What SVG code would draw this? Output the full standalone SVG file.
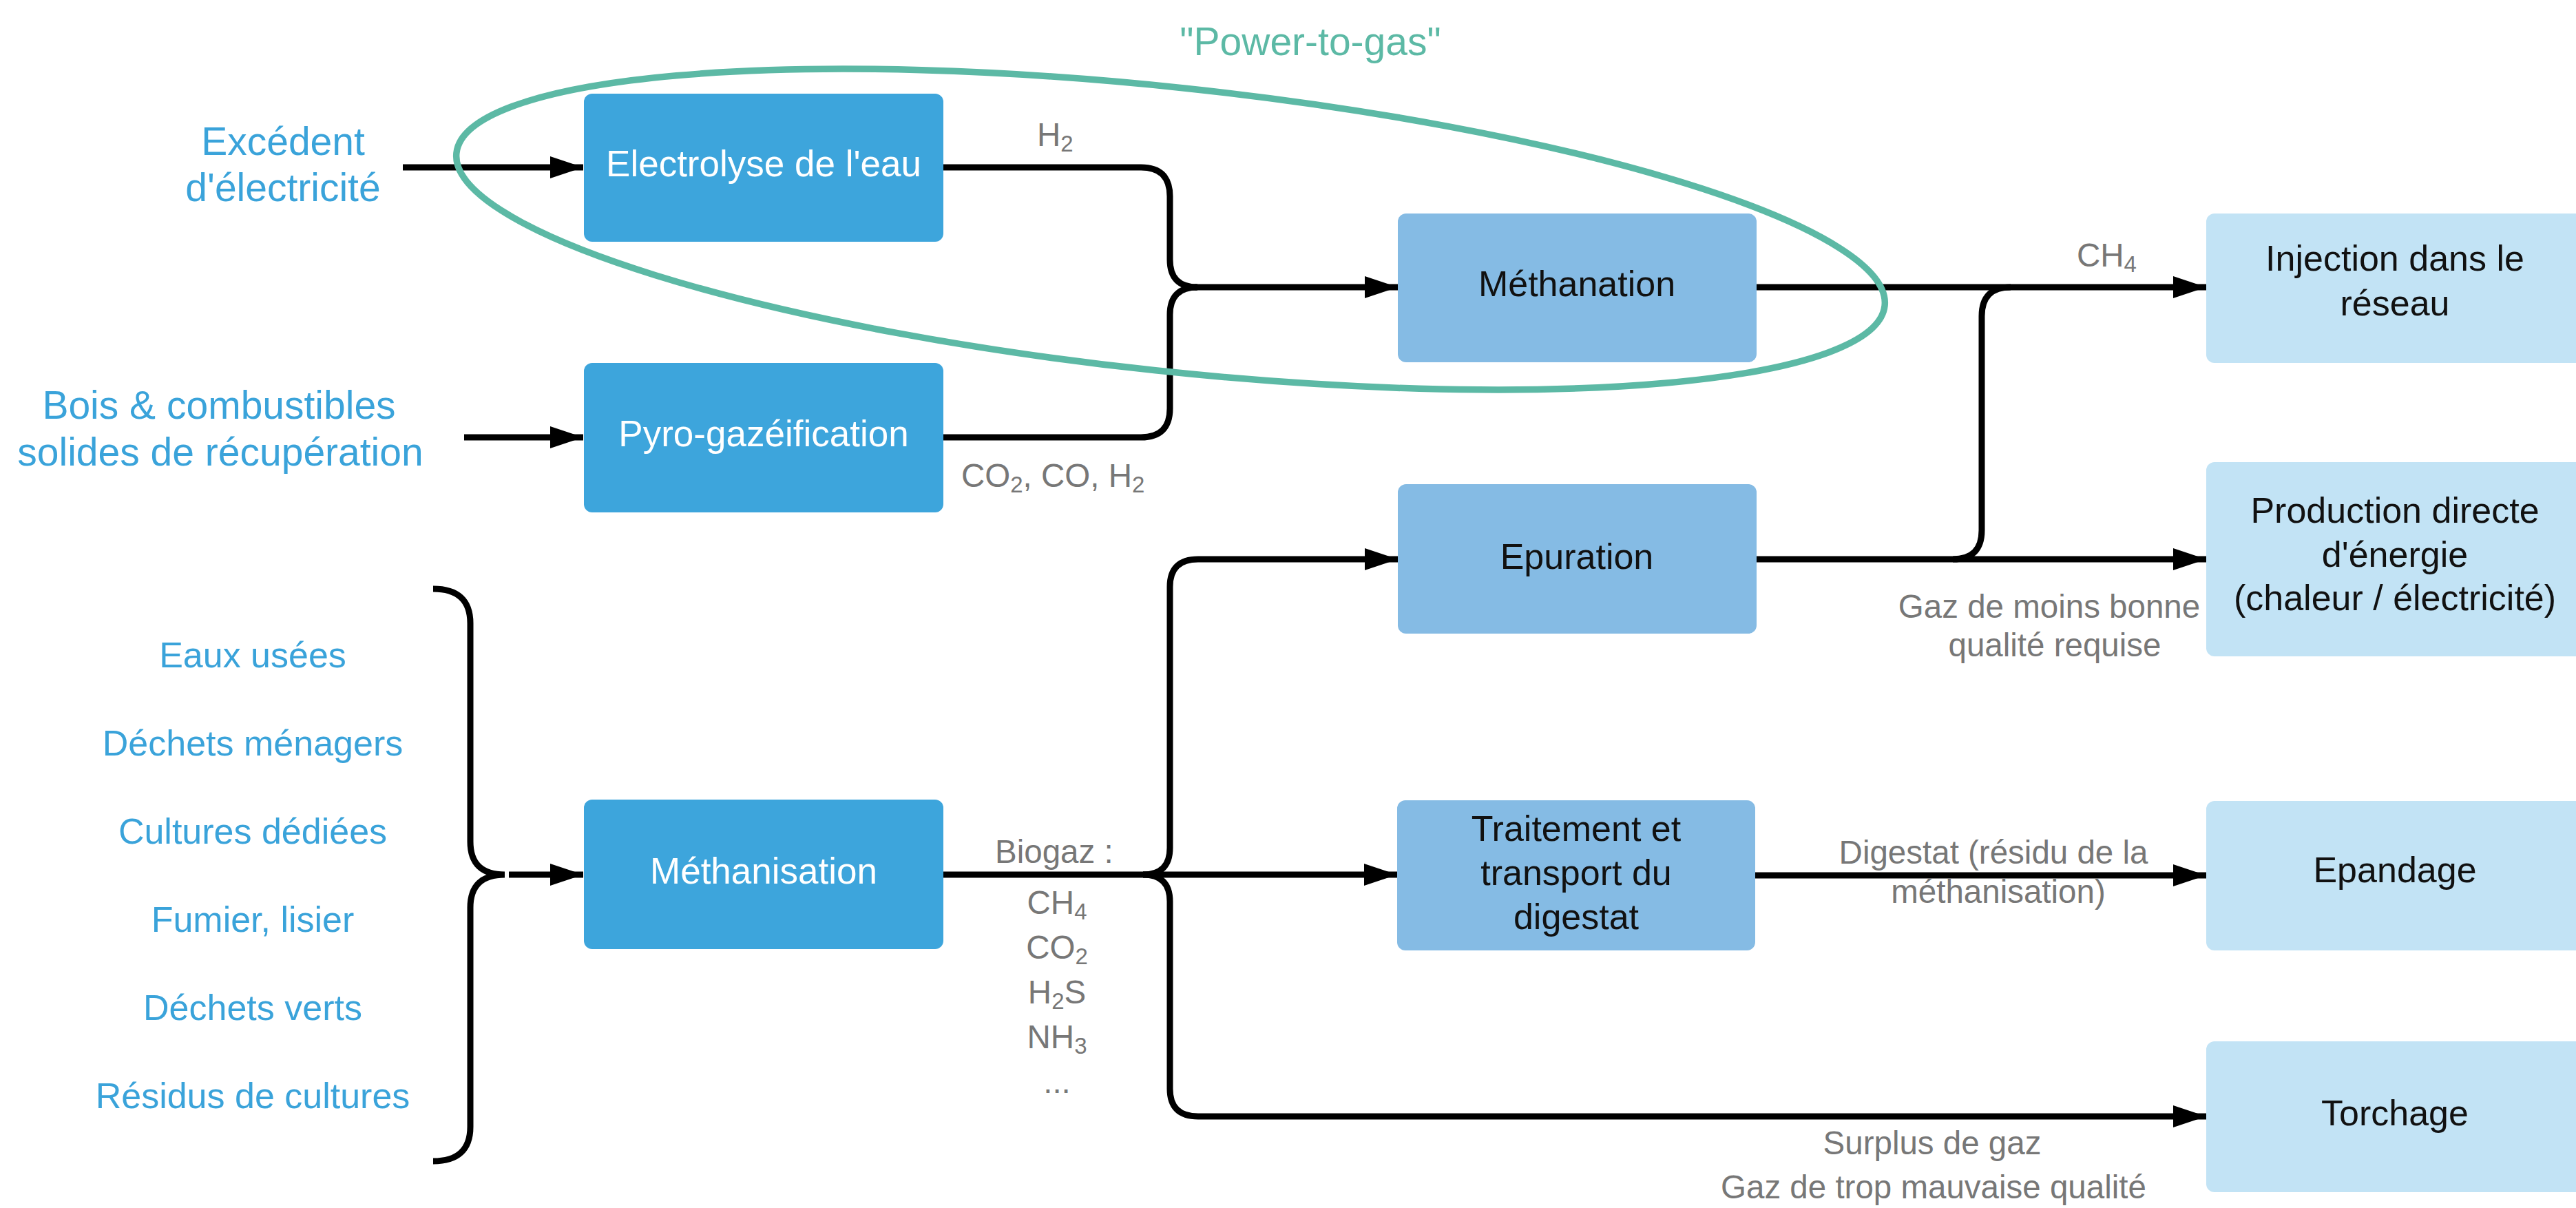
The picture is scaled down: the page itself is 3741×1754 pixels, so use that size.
<svg xmlns="http://www.w3.org/2000/svg" width="3741" height="1754" viewBox="0 0 3741 1754">
<style>
text{font-family:"Liberation Sans",Arial,sans-serif}
.dark{fill:#3da5dc}
.med{fill:#85bbe4}
.light{fill:#c2e3f5}
.wt{fill:#ffffff;font-size:53px;text-anchor:middle}
.bt{fill:#111111;font-size:52px;text-anchor:middle}
.inp{fill:#3aa3da;font-size:57px;text-anchor:middle}
.lst{fill:#3aa3da;font-size:52px;text-anchor:middle}
.gl{fill:#777777;font-size:47.5px}
.sub{font-size:33px}
.c{fill:none;stroke:#000000;stroke-width:9}
.arr{marker-end:url(#ah)}
</style>
<defs>
<marker id="ah" markerUnits="userSpaceOnUse" markerWidth="48" markerHeight="32" refX="48" refY="16" orient="auto">
<path d="M0,0 L48,16 L0,32 Z" fill="#000000"/>
</marker>
</defs>
<rect width="3741" height="1754" fill="#ffffff"/>

<g id="connectors">
<path class="c arr" d="M585,243 L847,243"/>
<path class="c arr" d="M674,635 L847,635"/>
<path class="c" d="M629,855 Q683,855 683,905 L683,1222 Q683,1270 733,1270 Q683,1270 683,1318 L683,1636 Q683,1686 629,1686"/>
<path class="c arr" d="M739,1270 L847,1270"/>
<path class="c" d="M1370,243 L1657,243 Q1699,243 1699,285 L1699,377 Q1699,417 1739,417"/>
<path class="c" d="M1370,635 L1657,635 Q1699,635 1699,593 L1699,457 Q1699,417 1739,417"/>
<path class="c arr" d="M1735,417 L2030,417"/>
<path class="c arr" d="M2550,417 L3204,417"/>
<path class="c arr" d="M2550,812 L3204,812"/>
<path class="c" d="M2836,812 Q2878,812 2878,770 L2878,459 Q2878,417 2920,417"/>
<path class="c arr" d="M1370,1270 L2029,1270"/>
<path class="c arr" d="M1660,1270 Q1699,1270 1699,1231 L1699,852 Q1699,812 1740,812 L2030,812"/>
<path class="c arr" d="M1660,1270 Q1699,1270 1699,1309 L1699,1581 Q1699,1621 1740,1621 L3204,1621"/>
<path class="c arr" d="M2549,1271 L3204,1271"/>
</g>

<g id="power-to-gas">
<ellipse cx="1700" cy="333" rx="1043" ry="206" transform="rotate(6.1 1700 333)" fill="none" stroke="#5cb9a5" stroke-width="9.5"/>
<text x="1903" y="80" fill="#5cb9a5" font-size="57" text-anchor="middle">"Power-to-gas"</text>
</g>

<g id="input-electricite">
<text class="inp" x="411" y="225">Excédent</text>
<text class="inp" x="411" y="292">d'électricité</text>
</g>
<g id="input-bois">
<text class="inp" x="318" y="608">Bois &amp; combustibles</text>
<text class="inp" x="320" y="676">solides de récupération</text>
</g>
<g id="input-dechets">
<text class="lst" x="367" y="969">Eaux usées</text>
<text class="lst" x="367" y="1097">Déchets ménagers</text>
<text class="lst" x="367" y="1225">Cultures dédiées</text>
<text class="lst" x="367" y="1353">Fumier, lisier</text>
<text class="lst" x="367" y="1481">Déchets verts</text>
<text class="lst" x="367" y="1609">Résidus de cultures</text>
</g>

<g id="electrolyse">
<rect class="dark" x="848" y="136" width="522" height="215" rx="12"/>
<text class="wt" x="1109" y="256">Electrolyse de l'eau</text>
</g>
<g id="pyro">
<rect class="dark" x="848" y="527" width="522" height="217" rx="12"/>
<text class="wt" x="1109" y="648">Pyro-gazéification</text>
</g>
<g id="methanisation">
<rect class="dark" x="848" y="1161" width="522" height="217" rx="12"/>
<text class="wt" x="1109" y="1283">Méthanisation</text>
</g>

<g id="methanation">
<rect class="med" x="2030" y="310" width="521" height="216" rx="12"/>
<text class="bt" x="2290" y="430">Méthanation</text>
</g>
<g id="epuration">
<rect class="med" x="2030" y="703" width="521" height="217" rx="12"/>
<text class="bt" x="2290" y="826">Epuration</text>
</g>
<g id="traitement">
<rect class="med" x="2029" y="1162" width="520" height="218" rx="12"/>
<text class="bt" x="2289" y="1221">Traitement et</text>
<text class="bt" x="2289" y="1285">transport du</text>
<text class="bt" x="2289" y="1349">digestat</text>
</g>

<g id="injection">
<rect class="light" x="3204" y="310" width="560" height="217" rx="12"/>
<text class="bt" x="3478" y="393">Injection dans le</text>
<text class="bt" x="3478" y="458">réseau</text>
</g>
<g id="production">
<rect class="light" x="3204" y="671" width="560" height="282" rx="12"/>
<text class="bt" x="3478" y="759">Production directe</text>
<text class="bt" x="3478" y="823">d'énergie</text>
<text class="bt" x="3478" y="886">(chaleur / électricité)</text>
</g>
<g id="epandage">
<rect class="light" x="3204" y="1163" width="560" height="217" rx="12"/>
<text class="bt" x="3478" y="1281">Epandage</text>
</g>
<g id="torchage">
<rect class="light" x="3204" y="1512" width="560" height="219" rx="12"/>
<text class="bt" x="3478" y="1634">Torchage</text>
</g>

<g id="labels">
<text class="gl" x="1506" y="212">H<tspan class="sub" dy="8">2</tspan></text>
<text class="gl" x="1396" y="707">CO<tspan class="sub" dy="8">2</tspan><tspan dy="-8">, CO, H</tspan><tspan class="sub" dy="8">2</tspan></text>
<text class="gl" x="3016" y="387">CH<tspan class="sub" dy="8">4</tspan></text>
<text class="gl" x="2976" y="897" text-anchor="middle">Gaz de moins bonne</text>
<text class="gl" x="2984" y="953" text-anchor="middle">qualité requise</text>
<text class="gl" x="1445" y="1253">Biogaz :</text>
<text class="gl" x="1535" y="1327" text-anchor="middle">CH<tspan class="sub" dy="8">4</tspan></text>
<text class="gl" x="1535" y="1392" text-anchor="middle">CO<tspan class="sub" dy="8">2</tspan></text>
<text class="gl" x="1535" y="1457" text-anchor="middle">H<tspan class="sub" dy="8">2</tspan><tspan dy="-8">S</tspan></text>
<text class="gl" x="1535" y="1522" text-anchor="middle">NH<tspan class="sub" dy="8">3</tspan></text>
<text class="gl" x="1535" y="1587" text-anchor="middle">...</text>
<text class="gl" x="2895" y="1254" text-anchor="middle">Digestat (résidu de la</text>
<text class="gl" x="2902" y="1311" text-anchor="middle">méthanisation)</text>
<text class="gl" x="2806" y="1676" text-anchor="middle">Surplus de gaz</text>
<text class="gl" x="2808" y="1740" text-anchor="middle">Gaz de trop mauvaise qualité</text>
</g>
</svg>
